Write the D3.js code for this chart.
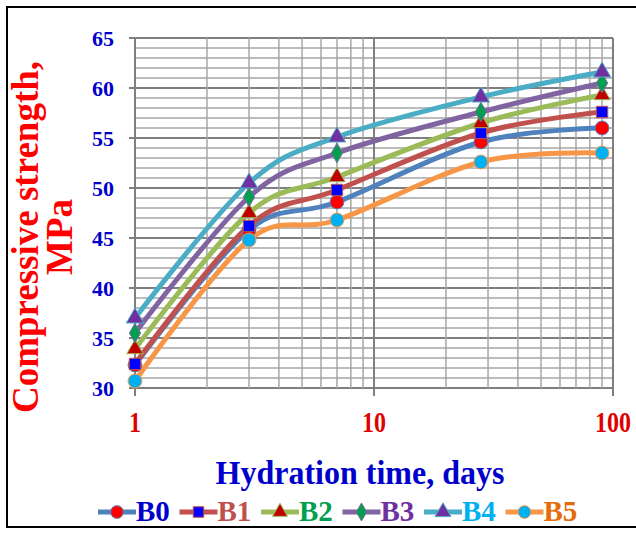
<!DOCTYPE html>
<html>
<head>
<meta charset="utf-8">
<script src="https://cdn.jsdelivr.net/npm/d3@7"></script>
<style>
  body { margin: 0; background: #fff; }
  svg text { font-family: "Liberation Serif", "DejaVu Serif", serif; font-weight: bold; }
</style>
</head>
<body>
<div id="chart"></div>
<script>
// hydration days (x, log scale)
const days = [1, 3, 7, 28, 90];
const seriesNames = ['B0', 'B1', 'B2', 'B3', 'B4', 'B5'];
// compressive strength, MPa
const B0 = [32.3, 45.8, 48.6, 54.6, 56.0];
const B1 = [32.4, 46.2, 49.8, 55.5, 57.6];
const B2 = [33.9, 47.5, 51.1, 56.5, 59.3];
const B3 = [35.5, 49.1, 53.5, 57.6, 60.5];
const B4 = [37.0, 50.5, 55.1, 59.1, 61.6];
const B5 = [30.7, 44.8, 46.8, 52.6, 53.5];
const yTicks = [30, 35, 40, 45, 50, 55, 60, 65];
const xTicks = [1, 10, 100];

const values = [B0, B1, B2, B3, B4, B5];
const lineColors = ['#4f81bd', '#c0504d', '#9bbb59', '#8064a2', '#4bacc6', '#f79646'];
const markerFill = ['#ff0000', '#0000ff', '#c00000', '#00a050', '#7030a0', '#00b0f0'];
const markerType = [d3.symbolCircle, d3.symbolSquare, d3.symbolTriangle, d3.symbolDiamond, d3.symbolTriangle, d3.symbolCircle];
const markerSize = [150, 130, 115, 110, 130, 150];
const textColors = ['#0000cc', '#c0504d', '#00a050', '#7030a0', '#00b0f0', '#e46c0a'];

const width = 636, height = 536;
const svg = d3.select('#chart').append('svg').attr('width', width).attr('height', height);

svg.append('rect').attr('x', 7).attr('y', 7).attr('width', 640).attr('height', 520)
  .attr('fill', '#fff').attr('stroke', '#000').attr('stroke-width', 2);

const x = d3.scaleLog().domain([1, 100]).range([135, 613]);
const y = d3.scaleLinear().domain([30, 65]).range([388, 38]);

const grid = svg.append('g');
// horizontal grid
d3.range(30, 66, 1).forEach(v => {
  const major = v % 5 === 0;
  grid.append('line')
    .attr('x1', x(1) - (major ? 6 : 0)).attr('x2', x(100)).attr('y1', y(v)).attr('y2', y(v))
    .attr('stroke', major ? '#7f7f7f' : '#a6a6a6').attr('stroke-width', major ? 2 : 1.5);
});
// vertical grid (log minors)
const xGrid = [];
[1, 10].forEach(d => d3.range(1, 10).forEach(k => xGrid.push(d * k)));
xGrid.push(100);
xGrid.forEach(v => {
  const major = xTicks.includes(v);
  grid.append('line')
    .attr('x1', x(v)).attr('x2', x(v)).attr('y1', y(65)).attr('y2', y(30) + (major ? 8 : 0))
    .attr('stroke', major ? '#7f7f7f' : '#a6a6a6').attr('stroke-width', major ? 2 : 1.5);
});

// axis labels
svg.append('g').selectAll('text').data(yTicks).join('text')
  .attr('x', 114).attr('y', d => y(d) + 7.5)
  .attr('text-anchor', 'end').attr('fill', '#0000cc').attr('font-size', 22)
  .text(d => d);

svg.append('g').selectAll('text').data(xTicks).join('text')
  .attr('transform', d => `translate(${x(d)},432) scale(1,1.2)`)
  .attr('text-anchor', 'middle').attr('fill', '#e00000').attr('font-size', 24)
  .text(d => d);

svg.append('text').attr('transform', 'translate(360,484) scale(1,1.08)').attr('text-anchor', 'middle')
  .attr('fill', '#0000cc').attr('font-size', 32).text('Hydration time, days');

const yTitle = svg.append('text').attr('transform', 'translate(38,237) rotate(-90)')
  .attr('text-anchor', 'middle').attr('fill', '#ff0000').attr('font-size', 37);
yTitle.append('tspan').attr('x', 0).attr('y', 0).text('Compressive strength,');
yTitle.append('tspan').attr('x', 0).attr('y', 34).text('MPa');

// series
const line = d3.line().x((d, i) => x(days[i])).y(d => y(d)).curve(d3.curveCatmullRom.alpha(0));
const plot = svg.append('g');
values.forEach((vals, s) => {
  plot.append('path').attr('d', line(vals)).attr('fill', 'none')
    .attr('stroke', lineColors[s]).attr('stroke-width', 5).attr('stroke-linecap', 'round');
});
values.forEach((vals, s) => {
  plot.append('g').selectAll('path').data(vals).join('path')
    .attr('transform', (d, i) => `translate(${x(days[i])},${y(d)})`)
    .attr('d', d3.symbol().type(markerType[s]).size(markerSize[s]))
    .attr('fill', markerFill[s]).attr('stroke', lineColors[s]).attr('stroke-width', 1);
});

// legend
const legend = svg.append('g');
seriesNames.forEach((name, s) => {
  const lx = 98 + s * 81.5;
  const g = legend.append('g').attr('transform', `translate(${lx},512)`);
  g.append('line').attr('x1', 0).attr('x2', 38).attr('y1', 0).attr('y2', 0)
    .attr('stroke', lineColors[s]).attr('stroke-width', 5);
  g.append('path').attr('transform', 'translate(19,0)')
    .attr('d', d3.symbol().type(markerType[s]).size(markerSize[s] * 0.85))
    .attr('fill', markerFill[s]).attr('stroke', lineColors[s]).attr('stroke-width', 1);
  g.append('text').attr('transform', 'translate(38,9) scale(1,1.05)').attr('fill', textColors[s])
    .attr('font-size', 29).text(name);
});
</script>
</body>
</html>
